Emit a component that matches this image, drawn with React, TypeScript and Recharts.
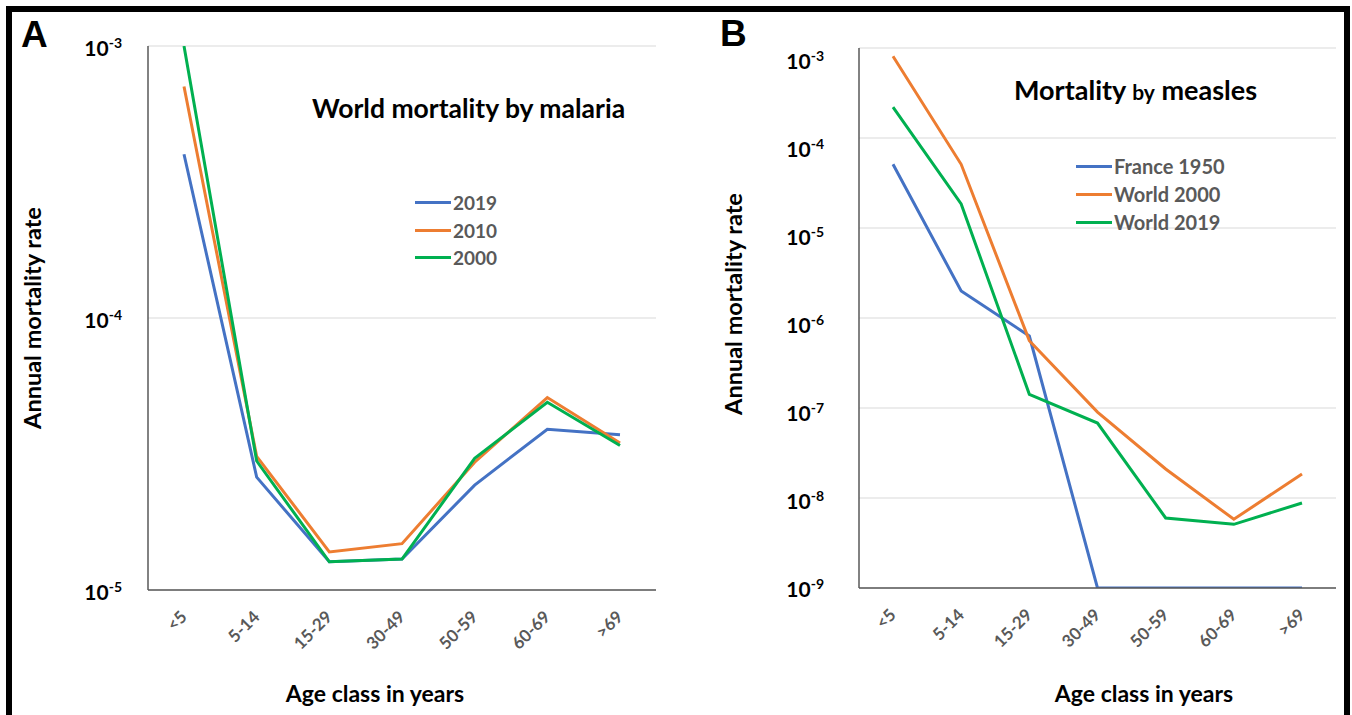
import { LineChart, Line, XAxis, YAxis, CartesianGrid, Legend } from "recharts"

const ageClasses = ["<5", "5-14", "15-29", "30-49", "50-59", "60-69", ">69"]

// panel A, world mortality by malaria
const malaria2019 = [4.0e-4, 2.6e-5, 1.27e-5, 1.3e-5, 2.43e-5, 3.9e-5, 3.72e-5]
const malaria2010 = [7.1e-4, 3.1e-5, 1.38e-5, 1.48e-5, 2.95e-5, 5.1e-5, 3.47e-5]
const malaria2000 = [1.0e-3, 2.98e-5, 1.27e-5, 1.3e-5, 3.05e-5, 4.9e-5, 3.4e-5]
const malariaTicks = [1e-5, 1e-4, 1e-3]
const malariaSeries = ["2019", "2010", "2000"]

// panel B, mortality by measles
const france1950 = [5.1e-5, 2.0e-6, 6.3e-7, 1e-9, 1e-9, 1e-9, 1e-9]
const world2000 = [8.1e-4, 5.1e-5, 5.6e-7, 9.0e-8, 2.1e-8, 5.8e-9, 1.85e-8]
const world2019 = [2.2e-4, 1.85e-5, 1.42e-7, 6.8e-8, 6.0e-9, 5.1e-9, 8.8e-9]
const measlesTicks = [1e-9, 1e-8, 1e-7, 1e-6, 1e-5, 1e-4, 1e-3]
const measlesSeries = ["France 1950", "World 2000", "World 2019"]

const malariaData = ageClasses.map((age, i) => ({
  age,
  y2019: malaria2019[i],
  y2010: malaria2010[i],
  y2000: malaria2000[i],
}))

const measlesData = ageClasses.map((age, i) => ({
  age,
  france1950: france1950[i],
  world2000: world2000[i],
  world2019: world2019[i],
}))

const FONT = "Lato, 'Open Sans', sans-serif"
const GREY = "#595959"
const BLUE = "#4472C4"
const ORANGE = "#ED7D31"
const GREEN = "#00B050"

function XTick({ x, y, payload }: any) {
  const ax = x + 4
  const ay = y + 28
  return (
    <text
      x={ax}
      y={ay}
      textAnchor="end"
      transform={`rotate(-45 ${ax} ${ay})`}
      fill={GREY}
      fontSize={17}
      fontWeight="bold"
      fontFamily={FONT}
    >
      {payload.value}
    </text>
  )
}

function makeYTick(gap: number, shift: (y: number) => number) {
  return ({ x, y, payload }: any) => {
    const exp = Math.round(Math.log10(payload.value))
    return (
      <text
        x={x - gap}
        y={y + 7.5 + shift(y)}
        textAnchor="end"
        fill="#000"
        fontSize={21}
        fontWeight="bold"
        fontFamily={FONT}
      >
        <tspan>10</tspan>
        <tspan dy={-8} fontSize={14}>
          {exp}
        </tspan>
      </text>
    )
  }
}

function makeLegend(order: string[], rowHeight: number, fontSize: number) {
  return ({ payload }: any) => {
    const items = [...(payload || [])].sort((a: any, b: any) => order.indexOf(a.value) - order.indexOf(b.value))
    return (
      <div>
        {items.map((p: any) => (
          <div key={p.value} style={{ display: "flex", alignItems: "center", height: rowHeight }}>
            <span style={{ display: "inline-block", width: 36, height: 3, background: p.color }} />
            <span
              style={{
                marginLeft: 2,
                color: GREY,
                fontFamily: FONT,
                fontWeight: "bold",
                fontSize,
                whiteSpace: "nowrap",
              }}
            >
              {p.value}
            </span>
          </div>
        ))}
      </div>
    )
  }
}

const yTitle = (cx: number, cy: number) => () =>
  (
    <text
      x={cx}
      y={cy}
      transform={`rotate(-90 ${cx} ${cy})`}
      textAnchor="middle"
      fontSize={23.5}
      fontWeight="bold"
      fontFamily={FONT}
      fill="#000"
    >
      Annual mortality rate
    </text>
  )

const xTitle = (cx: number) => () =>
  (
    <text x={cx} y={702} textAnchor="middle" fontSize={23} fontWeight="bold" fontFamily={FONT} fill="#000">
      Age class in years
    </text>
  )

function MalariaPanel() {
  return (
    <LineChart
      width={680}
      height={715}
      data={malariaData}
      margin={{ top: 46, right: 24, bottom: 65, left: 88 }}
    >
      <CartesianGrid vertical={false} stroke="#d9d9d9" />
      <XAxis
        dataKey="age"
        height={60}
        padding={{ left: 36, right: 36 }}
        tickLine={false}
        tickSize={0}
        tickMargin={0}
        axisLine={{ stroke: GREY, strokeWidth: 1.5 }}
        tick={XTick}
        interval={0}
        label={xTitle(375)}
      />
      <YAxis
        width={60}
        scale="log"
        domain={[1e-5, 1e-3]}
        ticks={malariaTicks}
        allowDataOverflow
        tickLine={false}
        tickSize={0}
        tickMargin={0}
        axisLine={{ stroke: GREY, strokeWidth: 1.5 }}
        tick={makeYTick(26, () => 2)}
        interval={0}
        label={yTitle(41, 318)}
      />
      <Legend
        layout="vertical"
        verticalAlign="middle"
        align="center"
        content={makeLegend(malariaSeries, 27.5, 19)}
        wrapperStyle={{ left: 415, top: 189, width: "auto" }}
      />
      <Line dataKey="y2019" name="2019" stroke={BLUE} strokeWidth={3} dot={false} isAnimationActive={false} />
      <Line dataKey="y2010" name="2010" stroke={ORANGE} strokeWidth={3} dot={false} isAnimationActive={false} />
      <Line dataKey="y2000" name="2000" stroke={GREEN} strokeWidth={3} dot={false} isAnimationActive={false} />
      <text x={21} y={47} fontSize={37} fontWeight="bold" fontFamily="'Liberation Sans', Arial, sans-serif" fill="#000">
        A
      </text>
      <text x={312} y={118} fontSize={26.5} fontWeight="bold" fontFamily={FONT} fill="#000">
        World mortality by malaria
      </text>
    </LineChart>
  )
}

function MeaslesPanel() {
  return (
    <LineChart
      width={672}
      height={715}
      data={measlesData}
      margin={{ top: 48, right: 16, bottom: 67, left: 119 }}
    >
      <CartesianGrid vertical={false} stroke="#d9d9d9" />
      <XAxis
        dataKey="age"
        height={60}
        padding={{ left: 34, right: 34 }}
        tickLine={false}
        tickSize={0}
        tickMargin={0}
        axisLine={{ stroke: GREY, strokeWidth: 1.5 }}
        tick={XTick}
        interval={0}
        label={xTitle(464)}
      />
      <YAxis
        width={60}
        scale="log"
        domain={[1e-9, 1e-3]}
        ticks={measlesTicks}
        allowDataOverflow
        tickLine={false}
        tickSize={0}
        tickMargin={0}
        axisLine={{ stroke: GREY, strokeWidth: 1.5 }}
        tick={makeYTick(35, (y) => 1.5 + (588 - y) * 0.0213)}
        interval={0}
        label={yTitle(62, 304)}
      />
      <Legend
        layout="vertical"
        verticalAlign="middle"
        align="center"
        content={makeLegend(measlesSeries, 28, 20)}
        wrapperStyle={{ left: 396, top: 152, width: "auto" }}
      />
      <Line dataKey="france1950" name="France 1950" stroke={BLUE} strokeWidth={3} dot={false} isAnimationActive={false} />
      <Line dataKey="world2000" name="World 2000" stroke={ORANGE} strokeWidth={3} dot={false} isAnimationActive={false} />
      <Line dataKey="world2019" name="World 2019" stroke={GREEN} strokeWidth={3} dot={false} isAnimationActive={false} />
      <text x={40} y={46} fontSize={37} fontWeight="bold" fontFamily="'Liberation Sans', Arial, sans-serif" fill="#000">
        B
      </text>
      <text x={334} y={100} fontWeight="bold" fontFamily={FONT} fill="#000" fontSize={27}>
        Mortality <tspan fontSize={21}>by</tspan> measles
      </text>
    </LineChart>
  )
}

export default function App() {
  return (
    <div
      style={{
        position: "absolute",
        left: 0,
        top: 0,
        width: 1352,
        height: 715,
        overflow: "hidden",
        background: "#fff",
      }}
    >
      <div
        style={{
          position: "absolute",
          left: 6,
          top: 6,
          width: 1344,
          height: 709,
          boxSizing: "border-box",
          borderTop: "6px solid #000",
          borderLeft: "6px solid #000",
          borderRight: "6px solid #000",
        }}
      />
      <div style={{ position: "absolute", left: 0, top: 0 }}>
        <MalariaPanel />
      </div>
      <div style={{ position: "absolute", left: 680, top: 0 }}>
        <MeaslesPanel />
      </div>
    </div>
  )
}
